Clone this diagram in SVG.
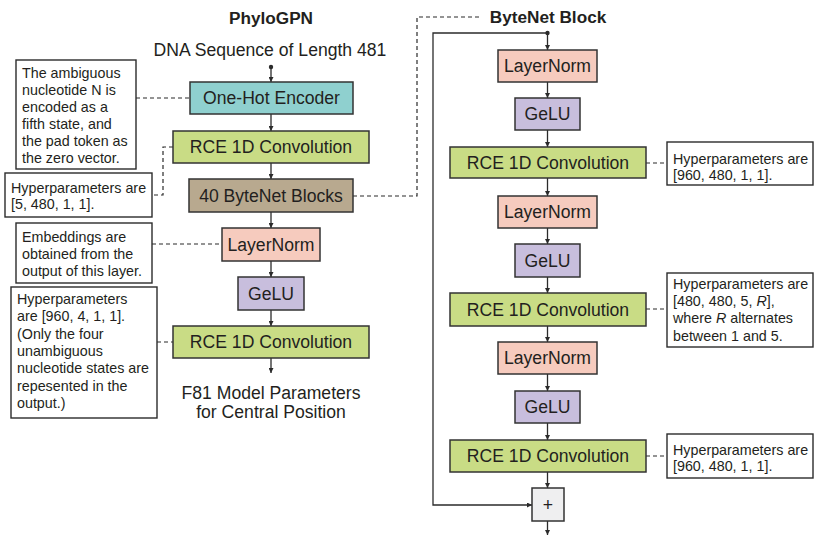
<svg xmlns="http://www.w3.org/2000/svg" width="814" height="535" viewBox="0 0 814 535">
<defs>
<marker id="ah" viewBox="0 0 10 10" refX="10" refY="5" markerWidth="5" markerHeight="5" orient="auto" markerUnits="userSpaceOnUse">
<path d="M0,0 L10,5 L0,10 z" fill="#2b2b2b"/>
</marker>
<style>
text{font-family:"Liberation Sans",Arial,Helvetica,sans-serif;fill:#231f20}
.t{font-size:17.6px;text-anchor:middle}
.b{font-size:17.2px;font-weight:bold;text-anchor:middle}
.n{font-size:14.3px}
.box{stroke:#333;stroke-width:1.5}
.teal{fill:#8fd0cf}
.green{fill:#c9dc85}
.tan{fill:#b8a98f}
.pink{fill:#f6cbbe}
.lav{fill:#c8bedd}
.plus{fill:#efeff0}
.note{fill:#fff;stroke:#2b2b2b;stroke-width:1.4}
.arr{stroke:#2b2b2b;stroke-width:1.3;fill:none;marker-end:url(#ah)}
.dash{stroke:#2b2b2b;stroke-width:1.2;fill:none;stroke-dasharray:4,3}
</style>
</defs>
<rect width="814" height="535" fill="#fff"/>

<!-- titles -->
<text class="b" x="271" y="24">PhyloGPN</text>
<text class="t" x="270" y="56">DNA Sequence of Length 481</text>
<text class="b" x="548" y="23">ByteNet Block</text>
<text class="t" x="271" y="399">F81 Model Parameters</text>
<text class="t" x="271" y="418">for Central Position</text>

<!-- connectors -->
<g id="connectors">
<circle cx="271" cy="67" r="2.2" fill="#2b2b2b"/>
<path class="arr" d="M271,67 V82"/>
<path class="arr" d="M271,114 V131"/>
<path class="arr" d="M271,163 V179"/>
<path class="arr" d="M271,212 V228"/>
<path class="arr" d="M271,261 V277"/>
<path class="arr" d="M271,310 V326"/>
<path class="arr" d="M271,358 V373"/>
<circle cx="547.5" cy="33" r="2.2" fill="#2b2b2b"/>
<path class="arr" d="M547.5,33 V50"/>
<path class="arr" d="M547.5,82 V98"/>
<path class="arr" d="M547.5,130 V147"/>
<path class="arr" d="M547.5,178 V196"/>
<path class="arr" d="M547.5,228 V244"/>
<path class="arr" d="M547.5,277 V293"/>
<path class="arr" d="M547.5,326 V342"/>
<path class="arr" d="M547.5,374 V391"/>
<path class="arr" d="M547.5,423 V440"/>
<path class="arr" d="M547.5,472 V488"/>
<path class="arr" d="M547.5,521 V535"/>
<path class="arr" d="M547.5,33 H433 V505 H532"/>
<path class="dash" d="M136,98 H190"/>
<path class="dash" d="M173,147 H163 V195 H152"/>
<path class="dash" d="M152,244 H222"/>
<path class="dash" d="M157,342 H173"/>
<path class="dash" d="M353,196 H417 V17 H482"/>
<path class="dash" d="M646,163 H667"/>
<path class="dash" d="M646,309 H667"/>
<path class="dash" d="M646,456 H667"/>
</g>

<!-- left column nodes -->
<g id="onehot"><rect class="box teal" x="190" y="82" width="163" height="32"/><text class="t" x="271.5" y="104">One-Hot Encoder</text></g>
<g id="rce1"><rect class="box green" x="173" y="131" width="196" height="32"/><text class="t" x="271" y="153">RCE 1D Convolution</text></g>
<g id="bytenet40"><rect class="box tan" x="189" y="179" width="164" height="33"/><text class="t" x="271" y="202">40 ByteNet Blocks</text></g>
<g id="ln0"><rect class="box pink" x="222" y="228" width="98" height="33"/><text class="t" x="271" y="251">LayerNorm</text></g>
<g id="gelu0"><rect class="box lav" x="238" y="277" width="66" height="33"/><text class="t" x="271" y="300">GeLU</text></g>
<g id="rce2"><rect class="box green" x="173" y="326" width="196" height="32"/><text class="t" x="271" y="348">RCE 1D Convolution</text></g>

<!-- left notes -->
<g id="note1"><rect class="note" x="16" y="60" width="120" height="109"/>
<text class="n"><tspan x="22" y="78">The ambiguous</tspan><tspan x="22" y="95">nucleotide N is</tspan><tspan x="22" y="112">encoded as a</tspan><tspan x="22" y="129">fifth state, and</tspan><tspan x="22" y="146">the pad token as</tspan><tspan x="22" y="163">the zero vector.</tspan></text></g>
<g id="note2"><rect class="note" x="5" y="173" width="147" height="44"/>
<text class="n"><tspan x="11" y="193">Hyperparameters are</tspan><tspan x="11" y="209">[5, 480, 1, 1].</tspan></text></g>
<g id="note3"><rect class="note" x="16" y="223" width="136" height="60"/>
<text class="n"><tspan x="22" y="242">Embeddings are</tspan><tspan x="22" y="259">obtained from the</tspan><tspan x="22" y="276">output of this layer.</tspan></text></g>
<g id="note4"><rect class="note" x="11" y="287" width="146" height="131"/>
<text class="n"><tspan x="17" y="304">Hyperparameters</tspan><tspan x="17" y="321.3">are [960, 4, 1, 1].</tspan><tspan x="17" y="338.6">(Only the four</tspan><tspan x="17" y="356">unambiguous</tspan><tspan x="17" y="373.3">nucleotide states are</tspan><tspan x="17" y="390.6">repesented in the</tspan><tspan x="17" y="408">output.)</tspan></text></g>

<!-- right column nodes -->
<g id="bln1"><rect class="box pink" x="498" y="50" width="99" height="32"/><text class="t" x="547.5" y="72">LayerNorm</text></g>
<g id="bgelu1"><rect class="box lav" x="515" y="98" width="65" height="32"/><text class="t" x="547.5" y="120">GeLU</text></g>
<g id="brce1"><rect class="box green" x="450" y="147" width="196" height="31"/><text class="t" x="548" y="169">RCE 1D Convolution</text></g>
<g id="bln2"><rect class="box pink" x="498" y="196" width="99" height="32"/><text class="t" x="547.5" y="218">LayerNorm</text></g>
<g id="bgelu2"><rect class="box lav" x="515" y="244" width="65" height="33"/><text class="t" x="547.5" y="267">GeLU</text></g>
<g id="brce2"><rect class="box green" x="450" y="293" width="196" height="33"/><text class="t" x="548" y="316">RCE 1D Convolution</text></g>
<g id="bln3"><rect class="box pink" x="498" y="342" width="99" height="32"/><text class="t" x="547.5" y="364">LayerNorm</text></g>
<g id="bgelu3"><rect class="box lav" x="515" y="391" width="65" height="32"/><text class="t" x="547.5" y="413">GeLU</text></g>
<g id="brce3"><rect class="box green" x="450" y="440" width="196" height="32"/><text class="t" x="548" y="462">RCE 1D Convolution</text></g>
<g id="plus"><rect class="box plus" x="532" y="488" width="32" height="33"/><text class="t" x="548" y="511">+</text></g>

<!-- right notes -->
<g id="rnote1"><rect class="note" x="667" y="142" width="146" height="43"/>
<text class="n"><tspan x="673" y="164">Hyperparameters are</tspan><tspan x="673" y="180">[960, 480, 1, 1].</tspan></text></g>
<g id="rnote2"><rect class="note" x="667" y="273" width="146" height="74"/>
<text class="n"><tspan x="673" y="289">Hyperparameters are</tspan><tspan x="673" y="306">[480, 480, 5, <tspan font-style="italic">R</tspan>],</tspan><tspan x="673" y="323">where <tspan font-style="italic">R</tspan> alternates</tspan><tspan x="673" y="341">between 1 and 5.</tspan></text></g>
<g id="rnote3"><rect class="note" x="667" y="434" width="146" height="44"/>
<text class="n"><tspan x="673" y="455">Hyperparameters are</tspan><tspan x="673" y="471">[960, 480, 1, 1].</tspan></text></g>
</svg>
